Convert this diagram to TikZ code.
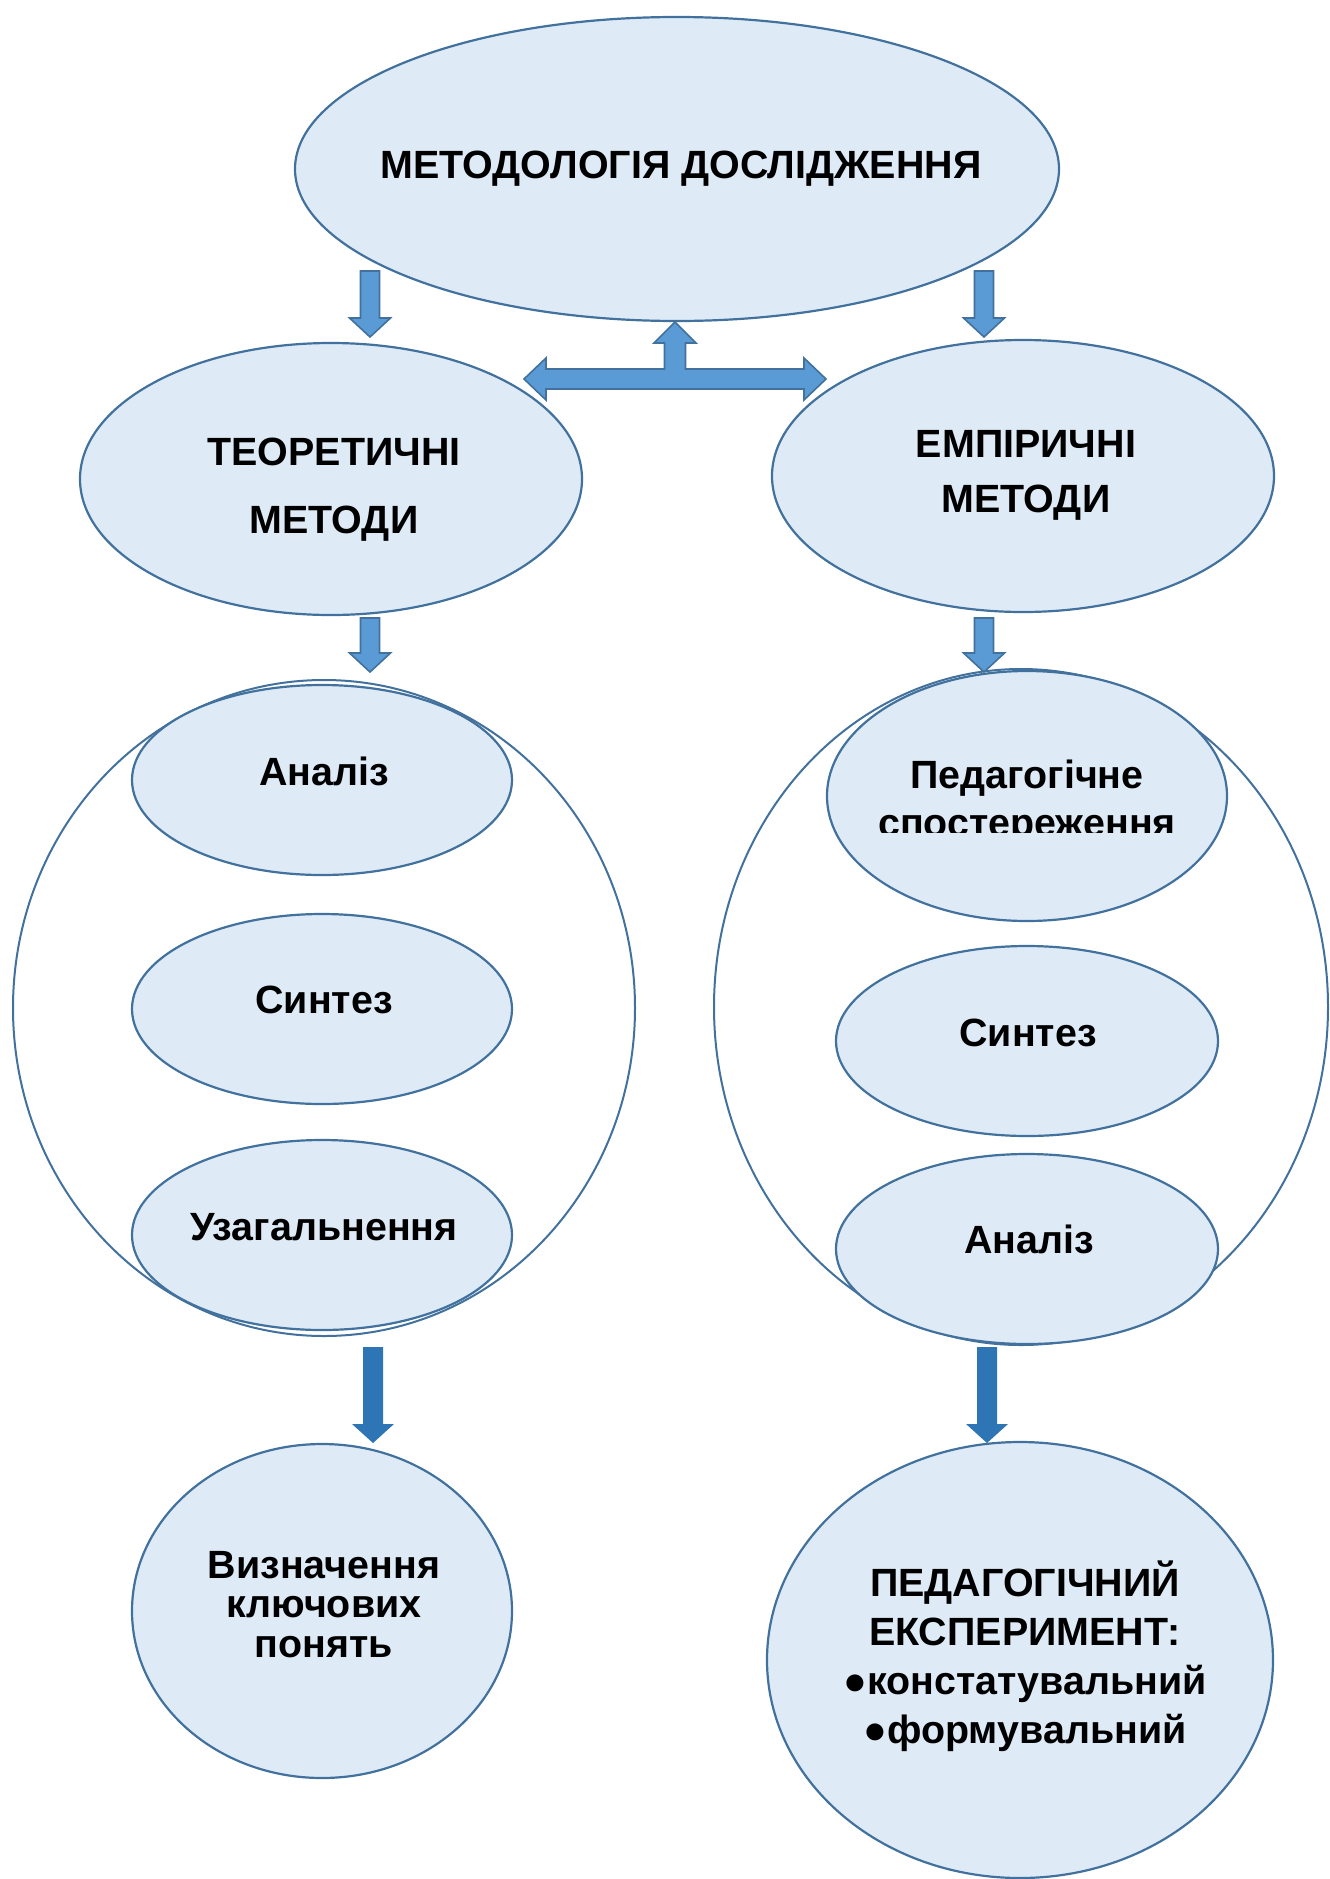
\documentclass[tikz,border=0pt]{standalone}
\usepackage{fontspec}
\setmainfont{Liberation Sans}
\usetikzlibrary{shapes.geometric}
\usetikzlibrary{calc}
\definecolor{shapefill}{HTML}{DEEBF7}
\definecolor{shapeline}{HTML}{41719C}
\definecolor{arrowfill}{HTML}{5B9BD5}
\definecolor{arrowdark}{HTML}{2E75B6}
\tikzset{
  oval/.style={ellipse,draw=shapeline,fill=shapefill,line width=1.1pt,inner sep=0pt},
  ring/.style={ellipse,draw=shapeline,line width=1pt,inner sep=0pt},
  caption/.style={font=\bfseries\fontsize{19.7}{24}\selectfont,align=center,inner sep=0pt,anchor=base},
  lightarrow/.style={fill=arrowfill,draw=shapeline,line width=0.8pt,line join=miter},
  darkarrow/.style={fill=arrowdark},
}
% block arrow pointing down: style, from, to, half shaft, half head, head length
\newcommand{\blockdown}[6]{%
  \path[#1] ($(#2)+(-#4,0)$) -- ($(#2)+(#4,0)$) -- ($(#3)+(#4,-#6)$) -- ($(#3)+(#5,-#6)$)
    -- (#3) -- ($(#3)+(-#5,-#6)$) -- ($(#3)+(-#4,-#6)$) -- cycle;}

\begin{document}
\begin{tikzpicture}[x=0.5pt,y=-0.5pt]
    \useasboundingbox (0,0) rectangle (1329,1879);
    % top level
    \node[oval,minimum width=382pt,minimum height=152pt] (method) at (677,169) {};
    \node[caption] (methodtext) at (681,178) {МЕТОДОЛОГІЯ ДОСЛІДЖЕННЯ};
    \node[oval,minimum width=251pt,minimum height=136pt] (theory) at (331,479) {};
    \node[caption,font=\bfseries\fontsize{19.7}{34}\selectfont] (theorytext) at (334,533) {ТЕОРЕТИЧНІ\\МЕТОДИ};
    \node[oval,minimum width=251pt,minimum height=136pt] (empiric) at (1023,476) {};
    \node[caption,font=\bfseries\fontsize{19.7}{27.5}\selectfont] (empirictext) at (1026,512) {ЕМПІРИЧНІ\\МЕТОДИ};
    % groups
    \node[ring,minimum width=311pt,minimum height=328pt] (theorygroup) at (324,1008) {};
    \node[ring,minimum width=307pt,minimum height=338pt] (empiricgroup) at (1021,1007) {};
    \node[oval,minimum width=190pt,minimum height=95pt] (analysisL) at (322,780) {};
    \node[caption] (analysisLtext) at (324,785) {Аналіз};
    \node[oval,minimum width=190pt,minimum height=95pt] (synthesisL) at (322,1009) {};
    \node[caption] (synthesisLtext) at (324,1013) {Синтез};
    \node[oval,minimum width=190pt,minimum height=95pt] (general) at (322,1235) {};
    \node[caption] (generaltext) at (324,1240) {Узагальнення};
    \node[oval,minimum width=200pt,minimum height=125pt] (observe) at (1027,796) {};
    \begin{scope}
        \clip (827,700) rectangle (1227,832);
        \node[caption] (observetext) at (1027,836) {Педагогічне\\спостереження};
    \end{scope}
    \node[oval,minimum width=191pt,minimum height=95pt] (synthesisR) at (1027,1041) {};
    \node[caption] (synthesisRtext) at (1028,1046) {Синтез};
    \node[oval,minimum width=191pt,minimum height=95pt] (analysisR) at (1027,1249) {};
    \node[caption] (analysisRtext) at (1029,1253) {Аналіз};
    % results
    \node[oval,minimum width=190pt,minimum height=167pt] (define) at (322,1611) {};
    \node[caption,font=\bfseries\fontsize{19.7}{19.7}\selectfont] (definetext) at (324,1657) {Визначення\\ключових\\понять};
    \node[oval,minimum width=253pt,minimum height=218pt] (experiment) at (1020,1660) {};
    \node[caption,font=\bfseries\fontsize{19.7}{24.5}\selectfont] (experimenttext) at (1025,1743)
        {ПЕДАГОГІЧНИЙ\\ЕКСПЕРИМЕНТ:\\●констатувальний\\●формувальний};
    % arrows
    \coordinate (topL1) at (370,271); \coordinate (topL2) at (370,337);
    \coordinate (topR1) at (984,271); \coordinate (topR2) at (984,337);
    \coordinate (midL1) at (370,618); \coordinate (midL2) at (370,672);
    \coordinate (midR1) at (984,618); \coordinate (midR2) at (984,672);
    \coordinate (lowL1) at (373,1347); \coordinate (lowL2) at (373,1443);
    \coordinate (lowR1) at (987,1347); \coordinate (lowR2) at (987,1443);
    \blockdown{lightarrow}{topL1}{topL2}{9.5}{20.5}{19}
    \blockdown{lightarrow}{topR1}{topR2}{9.5}{20.5}{19}
    \blockdown{lightarrow}{midL1}{midL2}{9.5}{20.5}{19}
    \blockdown{lightarrow}{midR1}{midR2}{9.5}{20.5}{19}
    \blockdown{darkarrow}{lowL1}{lowL2}{10}{21}{19}
    \blockdown{darkarrow}{lowR1}{lowR2}{10}{21}{19}
    % link between the two branches
    \path[lightarrow] (524,379) -- (546,358) -- (546,369) -- (664.5,369) -- (664.5,343) -- (654,343)
        -- (675,322) -- (696,343) -- (685.5,343) -- (685.5,369) -- (804,369) -- (804,358)
        -- (826,379) -- (804,400) -- (804,389) -- (546,389) -- (546,400) -- cycle;
\end{tikzpicture}
\end{document}
